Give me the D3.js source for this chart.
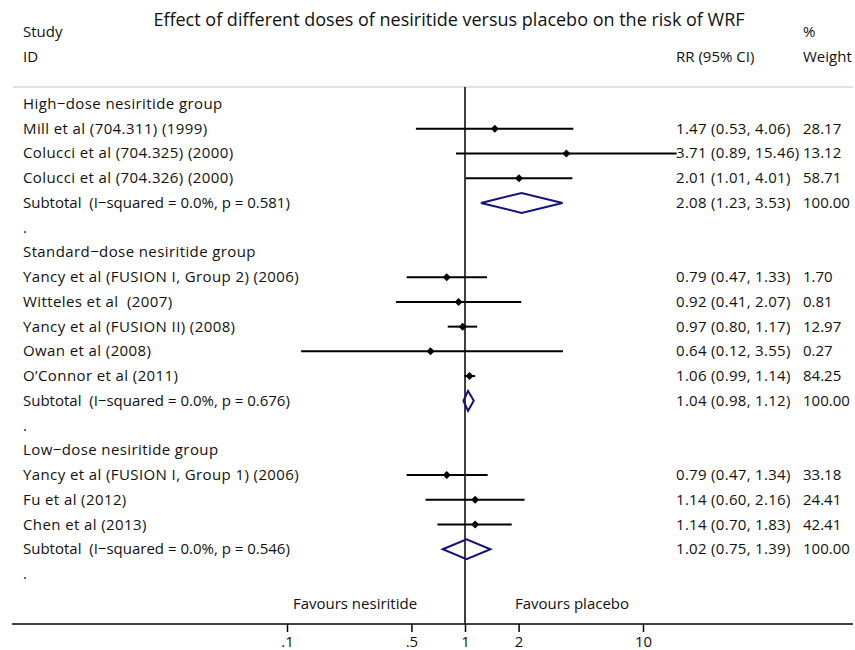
<!DOCTYPE html>
<html>
<head>
<meta charset="utf-8">
<script src="https://cdn.jsdelivr.net/npm/d3@7"></script>
<style>
  body { margin: 0; background: #fff; }
  svg text { font-family: "Open Sans", sans-serif; fill: #111; white-space: pre; }
</style>
</head>
<body>
<svg width="855" height="650"></svg>
<script>
(function() {

    // Rows of the forest plot, top to bottom.
    const rowLabels = [
        'High\u2212dose nesiritide group',
        'Mill et al (704.311) (1999)',
        'Colucci et al (704.325) (2000)',
        'Colucci et al (704.326) (2000)',
        'Subtotal  (I\u2212squared = 0.0%, p = 0.581)',
        '.',
        'Standard\u2212dose nesiritide group',
        'Yancy et al (FUSION I, Group 2) (2006)',
        'Witteles et al  (2007)',
        'Yancy et al (FUSION II) (2008)',
        'Owan et al (2008)',
        'O\u2019Connor et al (2011)',
        'Subtotal  (I\u2212squared = 0.0%, p = 0.676)',
        '.',
        'Low\u2212dose nesiritide group',
        'Yancy et al (FUSION I, Group 1) (2006)',
        'Fu et al (2012)',
        'Chen et al (2013)',
        'Subtotal  (I\u2212squared = 0.0%, p = 0.546)',
        '.'
    ];
    // row type: h = heading, s = study, t = subtotal, b = blank
    const rowTypes = ['h','s','s','s','t','b','h','s','s','s','s','s','t','b','h','s','s','s','t','b'];

    const rr     = [null, 1.47, 3.71, 2.01, 2.08, null, null, 0.79, 0.92, 0.97, 0.64, 1.06, 1.04, null, null, 0.79, 1.14, 1.14, 1.02, null];
    const lower  = [null, 0.53, 0.89, 1.01, 1.23, null, null, 0.47, 0.41, 0.80, 0.12, 0.99, 0.98, null, null, 0.47, 0.60, 0.70, 0.75, null];
    const upper  = [null, 4.06, 15.46, 4.01, 3.53, null, null, 1.33, 2.07, 1.17, 3.55, 1.14, 1.12, null, null, 1.34, 2.16, 1.83, 1.39, null];
    const weight = [null, '28.17', '13.12', '58.71', '100.00', null, null, '1.70', '0.81', '12.97', '0.27', '84.25', '100.00', null, null, '33.18', '24.41', '42.41', '100.00', null];

    const tickValues = [0.1, 0.5, 1, 2, 10];
    const tickLabels = ['.1', '.5', '1', '2', '10'];

    const fmt = d3.format('.2f');

    const svg = d3.select('svg');

    const x = d3.scaleLog()
        .domain([0.1, 10])
        .range([287, 643]);

    const y = d3.scaleLinear()
        .domain([0, rowLabels.length - 1])
        .range([104, 574]);

    const axisY = 624;
    const fs = '15px';

    // Title and column headers
    svg.append('text')
        .attr('x', 449).attr('y', 26)
        .attr('text-anchor', 'middle')
        .style('font-size', '18px')
        .text('Effect of different doses of nesiritide versus placebo on the risk of WRF');

    const header = [
        { t: 'Study', x: 23, y: 37 },
        { t: 'ID', x: 23, y: 62 },
        { t: '%', x: 803, y: 37 },
        { t: 'RR (95% CI)', x: 676, y: 62 },
        { t: 'Weight', x: 803, y: 62 }
    ];
    svg.selectAll('text.head')
        .data(header)
        .enter()
        .append('text')
        .attr('class', 'head')
        .attr('x', d => d.x)
        .attr('y', d => d.y)
        .style('font-size', fs)
        .text(d => d.t);

    // top rule
    svg.append('line')
        .attr('x1', 13).attr('x2', 853)
        .attr('y1', 87).attr('y2', 87)
        .attr('stroke', '#c4c4c4')
        .attr('stroke-width', 1.2);

    // null line at RR = 1
    svg.append('line')
        .attr('x1', x(1)).attr('x2', x(1))
        .attr('y1', 87).attr('y2', axisY)
        .attr('stroke', '#000')
        .attr('stroke-width', 1.5);

    const rows = rowLabels.map((label, i) => ({
        i, label, type: rowTypes[i], rr: rr[i], lo: lower[i], hi: upper[i], w: weight[i]
    }));

    // row labels
    svg.selectAll('text.label')
        .data(rows)
        .enter()
        .append('text')
        .attr('class', 'label')
        .attr('x', 23)
        .attr('y', d => y(d.i) + 5)
        .style('font-size', fs)
        .style('letter-spacing', d => d.type === 't' ? '0px' : '0.4px')
        .text(d => d.label);

    const valued = rows.filter(d => d.rr !== null);

    svg.selectAll('text.rr')
        .data(valued)
        .enter()
        .append('text')
        .attr('class', 'rr')
        .attr('x', 676)
        .attr('y', d => y(d.i) + 5)
        .style('font-size', fs)
        .style('letter-spacing', '0.3px')
        .text(d => `${ fmt(d.rr) } (${ fmt(d.lo) }, ${ fmt(d.hi) })`);

    svg.selectAll('text.wt')
        .data(valued)
        .enter()
        .append('text')
        .attr('class', 'wt')
        .attr('x', 803)
        .attr('y', d => y(d.i) + 5)
        .style('font-size', fs)
        .text(d => d.w);

    const studies = rows.filter(d => d.type === 's');

    // confidence intervals
    svg.selectAll('line.ci')
        .data(studies)
        .enter()
        .append('line')
        .attr('class', 'ci')
        .attr('x1', d => x(d.lo))
        .attr('x2', d => x(d.hi))
        .attr('y1', d => y(d.i))
        .attr('y2', d => y(d.i))
        .attr('stroke', '#000')
        .attr('stroke-width', 2);

    // point estimates
    svg.selectAll('path.pt')
        .data(studies)
        .enter()
        .append('path')
        .attr('class', 'pt')
        .attr('d', d => {
            const cx = x(d.rr), cy = y(d.i), r = 4;
            return `M${ cx },${ cy - r }L${ cx + r },${ cy }L${ cx },${ cy + r }L${ cx - r },${ cy }Z`;
        })
        .attr('fill', '#000');

    // subtotal diamonds
    svg.selectAll('path.sub')
        .data(rows.filter(d => d.type === 't'))
        .enter()
        .append('path')
        .attr('class', 'sub')
        .attr('d', d => {
            const cy = y(d.i), h = 10;
            return `M${ x(d.lo) },${ cy }L${ x(d.rr) },${ cy - h }L${ x(d.hi) },${ cy }L${ x(d.rr) },${ cy + h }Z`;
        })
        .attr('fill', 'none')
        .attr('stroke', '#12127a')
        .attr('stroke-width', 2);

    // favours labels
    svg.append('text')
        .attr('x', 355).attr('y', 609)
        .attr('text-anchor', 'middle')
        .style('font-size', fs)
        .text('Favours nesiritide');
    svg.append('text')
        .attr('x', 572).attr('y', 609)
        .attr('text-anchor', 'middle')
        .style('font-size', fs)
        .text('Favours placebo');

    // x axis
    svg.append('line')
        .attr('x1', 12).attr('x2', 853)
        .attr('y1', axisY).attr('y2', axisY)
        .attr('stroke', '#000')
        .attr('stroke-width', 1.5);

    const axis = svg.append('g')
        .attr('transform', `translate(0, ${ axisY })`)
        .call(d3.axisBottom(x)
            .tickValues(tickValues)
            .tickFormat((d, i) => tickLabels[i])
            .tickSize(8)
            .tickPadding(4));
    axis.select('.domain').remove();
    axis.selectAll('line').attr('stroke', '#000').attr('stroke-width', 1.5);
    axis.selectAll('text')
        .style('font-family', '"Open Sans", sans-serif')
        .style('font-size', fs)
        .attr('fill', '#111');

})();
</script>
</body>
</html>
